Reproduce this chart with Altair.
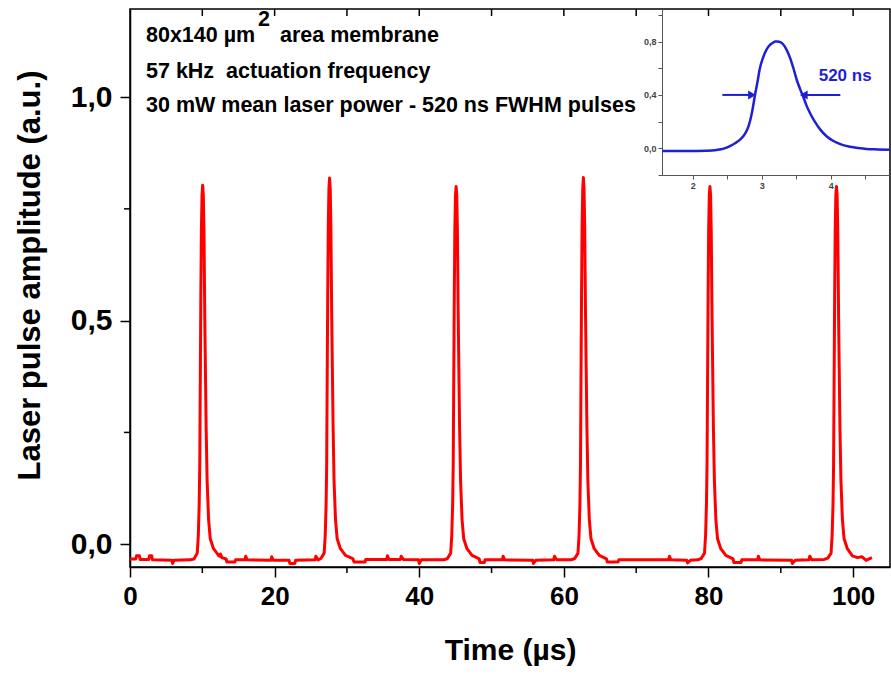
import altair as alt
import pandas as pd

# ---------------- main trace (time in microseconds, amplitude a.u.) ----------------
main_t = [
    0.0, 0.8, 0.9, 1.3, 1.4, 2.6, 2.7, 3.0, 3.1, 5.8, 5.9, 6.1, 8.3,
    8.85, 9.3, 9.45, 9.57, 9.65, 9.72, 9.79, 9.87, 9.96, 10.05, 10.14, 10.23, 10.34, 10.43, 10.53, 10.67, 10.87, 11.1, 11.55, 12.25,
    12.4, 12.5, 12.7, 13.3, 13.4, 14.5, 14.6, 15.9, 16.0, 16.2, 19.5, 19.6, 19.8, 22.0,
    22.1, 22.8, 22.9, 25.6, 25.7, 26.0,
    26.4, 26.85, 27.0, 27.12, 27.2, 27.27, 27.34, 27.42, 27.51, 27.6, 27.69, 27.78, 27.89, 27.98, 28.08, 28.22, 28.42, 28.65, 29.1, 29.8,
    30.8, 31.0, 32.5, 32.6, 35.5, 35.6, 35.8, 37.4, 37.5, 37.8, 39.9, 40.0, 40.3, 43.4,
    43.9, 44.35, 44.5, 44.62, 44.7, 44.77, 44.84, 44.92, 45.01, 45.1, 45.19, 45.28, 45.39, 45.48, 45.58, 45.72, 45.92, 46.15, 46.6, 47.3,
    48.3, 48.4, 49.0, 49.1, 51.5, 51.6, 51.8, 55.7, 55.8, 56.1, 58.6, 58.7, 59.0, 61.0,
    61.5, 61.95, 62.1, 62.22, 62.3, 62.37, 62.44, 62.52, 62.61, 62.7, 62.79, 62.88, 62.99, 63.08, 63.18, 63.32, 63.52, 63.75, 64.2, 64.9,
    65.9, 66.0, 67.5, 67.6, 74.5, 74.6, 74.8, 77.0, 77.1, 77.5, 78.5,
    79.0, 79.45, 79.6, 79.72, 79.8, 79.87, 79.94, 80.02, 80.11, 80.2, 80.29, 80.38, 80.49, 80.58, 80.68, 80.82, 81.02, 81.25, 81.7, 82.4,
    83.4, 83.5, 84.5, 84.6, 86.8, 86.9, 87.1, 91.5, 91.6, 92.0, 93.9, 94.0, 94.3, 96.0,
    96.5, 96.95, 97.1, 97.22, 97.3, 97.37, 97.44, 97.52, 97.61, 97.7, 97.79, 97.88, 97.99, 98.08, 98.18, 98.32, 98.52, 98.75, 99.2, 99.9,
    100.6, 101.2, 101.8, 102.6,
]
main_a = [
    -0.033, -0.033, -0.026, -0.026, -0.034, -0.034, -0.026, -0.026, -0.035, -0.036, -0.043, -0.036, -0.035,
    -0.033, -0.020, 0.02, 0.09, 0.18, 0.36, 0.54, 0.70, 0.78, 0.803, 0.78, 0.70, 0.51, 0.39, 0.26, 0.14, 0.055, 0.012, -0.010, -0.025,
    -0.027, -0.022, -0.030, -0.033, -0.040, -0.040, -0.035, -0.035, -0.027, -0.035, -0.036, -0.028, -0.036, -0.036,
    -0.043, -0.043, -0.036, -0.035, -0.027, -0.035,
    -0.032, -0.020, 0.02, 0.09, 0.18, 0.37, 0.55, 0.71, 0.795, 0.819, 0.795, 0.71, 0.52, 0.40, 0.27, 0.14, 0.055, 0.012, -0.010, -0.025,
    -0.032, -0.040, -0.040, -0.034, -0.034, -0.026, -0.034, -0.034, -0.027, -0.034, -0.035, -0.043, -0.035, -0.035,
    -0.032, -0.020, 0.02, 0.09, 0.18, 0.36, 0.54, 0.70, 0.78, 0.800, 0.78, 0.70, 0.51, 0.39, 0.26, 0.14, 0.055, 0.012, -0.010, -0.025,
    -0.033, -0.041, -0.041, -0.035, -0.035, -0.027, -0.035, -0.036, -0.043, -0.036, -0.035, -0.027, -0.035, -0.035,
    -0.032, -0.020, 0.02, 0.09, 0.18, 0.37, 0.55, 0.71, 0.795, 0.820, 0.795, 0.71, 0.52, 0.40, 0.27, 0.14, 0.055, 0.012, -0.010, -0.025,
    -0.033, -0.040, -0.040, -0.035, -0.035, -0.027, -0.035, -0.036, -0.042, -0.036, -0.035,
    -0.032, -0.020, 0.02, 0.09, 0.18, 0.36, 0.54, 0.70, 0.78, 0.800, 0.78, 0.70, 0.51, 0.39, 0.26, 0.14, 0.055, 0.012, -0.010, -0.025,
    -0.033, -0.041, -0.041, -0.035, -0.035, -0.027, -0.035, -0.036, -0.043, -0.036, -0.035, -0.027, -0.035, -0.034,
    -0.031, -0.020, 0.02, 0.09, 0.18, 0.36, 0.54, 0.70, 0.78, 0.800, 0.78, 0.70, 0.51, 0.39, 0.26, 0.14, 0.055, 0.012, -0.010, -0.026,
    -0.030, -0.028, -0.036, -0.030,
]

# ---------------- inset: one pulse ----------------
inset_t = [1.56, 1.9, 2.2, 2.35, 2.45, 2.54, 2.62, 2.69, 2.76, 2.81, 2.86, 2.90, 2.94, 2.97,
           3.02, 3.07, 3.12, 3.16, 3.20, 3.23, 3.27, 3.31, 3.36, 3.41, 3.46, 3.51, 3.56, 3.60,
           3.65, 3.70, 3.77, 3.85, 3.94, 4.04, 4.15, 4.28, 4.40, 4.52, 4.68, 4.85]
inset_a = [-0.02, -0.02, -0.018, -0.012, -0.002, 0.017, 0.04, 0.067, 0.11, 0.166, 0.27, 0.39, 0.50, 0.59,
           0.68, 0.74, 0.775, 0.79, 0.80, 0.80, 0.795, 0.78, 0.74, 0.68, 0.60, 0.51, 0.44, 0.39,
           0.32, 0.265, 0.20, 0.14, 0.09, 0.055, 0.03, 0.012, 0.002, -0.005, -0.008, -0.01]

# ---------------- ticks ----------------
x_major = [0, 20, 40, 60, 80, 100]
x_minor = [10, 30, 50, 70, 90]
x_top = [10, 20, 30, 40, 50, 60, 70, 80, 90, 100]
y_major = [0.0, 0.5, 1.0]
y_minor = [0.25, 0.75]
inset_x_ticks = [2, 2.5, 3, 3.5, 4, 4.5]
inset_y_ticks = [-0.2, 0.0, 0.2, 0.4, 0.6, 0.8, 1.0]

# ---------------- texts ----------------
line1a = "80x140 \u00b5m"
line1sup = "2"
line1b = "area membrane"
line2 = "57 kHz\u00a0 actuation frequency"
line3 = "30 mW mean laser power - 520 ns FWHM pulses"
fwhm_label = "520 ns"
arrow_left_t = [2.43, 2.86]
arrow_right_t = [4.14, 3.61]
arrow_a = [0.40]
fwhm_label_pos = [4.21, 0.545]

FONT = "Liberation Sans"
RED = "#ff0000"
BLUE = "#1f1fd6"

W, H = 760, 558

xs = alt.Scale(domain=[0, 105.1], nice=False, zero=False)
ys = alt.Scale(domain=[-0.051, 1.197], nice=False, zero=False)

x_axis = alt.Axis(
    values=x_major, title="Time (\u00b5s)", format="d",
    labelFont=FONT, labelFontSize=26, labelFontWeight="bold", labelColor="black",
    labelPadding=6, labelFlush=False,
    tickSize=10, tickWidth=1.5, tickColor="black",
    domainColor="black", domainWidth=1.5, grid=False,
    titleFont=FONT, titleFontSize=30, titleFontWeight="bold", titleColor="black",
    titlePadding=26)
y_axis = alt.Axis(
    values=y_major, title="Laser pulse amplitude (a.u.)",
    labelExpr="replace(format(datum.value, '.1f'), '.', ',')",
    labelFont=FONT, labelFontSize=30, labelFontWeight="bold", labelColor="black",
    labelPadding=8, labelFlush=False,
    tickSize=10, tickWidth=1.5, tickColor="black",
    domainColor="black", domainWidth=1.5, grid=False,
    titleFont=FONT, titleFontSize=31, titleFontWeight="bold", titleColor="black",
    titleX=-100, titleY=266, titleBaseline="middle", titleAlign="center", titleAngle=270)

main_df = pd.DataFrame({"t": main_t, "a": main_a})

line = alt.Chart(main_df).mark_line(color=RED, strokeWidth=3, strokeJoin="round").encode(
    x=alt.X("t:Q", scale=xs, axis=x_axis),
    y=alt.Y("a:Q", scale=ys, axis=y_axis),
)

minor_x = alt.Chart(pd.DataFrame({"t": x_minor})).mark_rule(color="black", strokeWidth=1.5).encode(
    x=alt.X("t:Q", scale=xs, axis=x_axis), y=alt.value(H), y2=alt.value(H + 6))
top_ticks = alt.Chart(pd.DataFrame({"t": x_top})).mark_rule(color="black", strokeWidth=1.5).encode(
    x=alt.X("t:Q", scale=xs, axis=x_axis), y=alt.value(0), y2=alt.value(7))
minor_y = alt.Chart(pd.DataFrame({"a": y_minor})).mark_rule(color="black", strokeWidth=1.5).encode(
    y=alt.Y("a:Q", scale=ys, axis=y_axis), x=alt.value(0), x2=alt.value(-6))


def label(txt, px, py, size=21.5, color="black", align="left"):
    return alt.Chart(pd.DataFrame({"s": [txt]})).mark_text(
        font=FONT, fontSize=size, fontWeight="bold", color=color, align=align, baseline="middle"
    ).encode(text="s:N", x=alt.value(px), y=alt.value(py))


texts = [
    label(line1a, 16, 27),
    label(line1sup, 128, 11),
    label(line1b, 150, 27),
    label(line2, 16, 63),
    label(line3, 16, 97),
]

main = alt.layer(line, minor_x, top_ticks, minor_y, *texts)

# ---------------- inset ----------------
xi = alt.Scale(domain=[1.555, 4.86], range=[532, W], nice=False, zero=False)
yi = alt.Scale(domain=[-0.2, 1.044], range=[166, 0], nice=False, zero=False)

xi_axis = alt.Axis(
    orient="bottom", offset=166 - H, values=inset_x_ticks,
    labelExpr="datum.value % 1 == 0 ? format(datum.value, 'd') : ''",
    labelFont=FONT, labelFontSize=9, labelFontWeight="bold", labelColor="#444444",
    labelPadding=2, tickSize=4, tickColor="#555555", domainColor="#555555",
    domainWidth=1, grid=False, title=None)
yi_axis = alt.Axis(
    orient="left", offset=-532, values=inset_y_ticks,
    labelExpr="(abs(datum.value) < 0.01 || abs(datum.value - 0.4) < 0.01 || abs(datum.value - 0.8) < 0.01) ? replace(format(datum.value, '.1f'), '.', ',') : ''",
    labelFont=FONT, labelFontSize=9, labelFontWeight="bold", labelColor="#444444",
    labelPadding=2, tickSize=4, tickColor="#555555", domainColor="#555555",
    domainWidth=1, grid=False, title=None)

inset_df = pd.DataFrame({"t": inset_t, "a": inset_a})
blue = alt.Chart(inset_df).mark_line(color=BLUE, strokeWidth=2.5, interpolate="monotone").encode(
    x=alt.X("t:Q", scale=xi, axis=xi_axis),
    y=alt.Y("a:Q", scale=yi, axis=yi_axis),
)

arr_df = pd.DataFrame({"t": [arrow_left_t[0], arrow_right_t[0]],
                       "t2": [arrow_left_t[1], arrow_right_t[1]],
                       "a": arrow_a * 2,
                       "shape": ["triangle-right", "triangle-left"]})
shafts = alt.Chart(arr_df).mark_rule(color=BLUE, strokeWidth=2).encode(
    x=alt.X("t:Q", scale=xi, axis=xi_axis), x2="t2:Q", y=alt.Y("a:Q", scale=yi, axis=yi_axis))
heads = alt.Chart(arr_df).mark_point(color=BLUE, filled=True, opacity=1, size=80).encode(
    x=alt.X("t2:Q", scale=xi, axis=xi_axis), y=alt.Y("a:Q", scale=yi, axis=yi_axis),
    shape=alt.Shape("shape:N", scale=None, legend=None))
fwhm = alt.Chart(pd.DataFrame({"s": [fwhm_label], "t": [fwhm_label_pos[0]], "a": [fwhm_label_pos[1]]})).mark_text(
    font=FONT, fontSize=17, fontWeight="bold", color=BLUE, align="center", baseline="middle"
).encode(text="s:N", x=alt.X("t:Q", scale=xi, axis=xi_axis), y=alt.Y("a:Q", scale=yi, axis=yi_axis))

inset = alt.layer(blue, shafts, heads, fwhm)

chart = alt.layer(main, inset).resolve_scale(x="independent", y="independent").properties(
    width=W, height=H,
    padding={"left": 130, "top": 9, "right": 1, "bottom": 107},
    autosize=alt.AutoSizeParams(type="none"),
    background="white",
).configure_view(stroke="black", strokeWidth=1.5)

chart.save("out.html", embed_options={"renderer": "svg", "actions": False})
